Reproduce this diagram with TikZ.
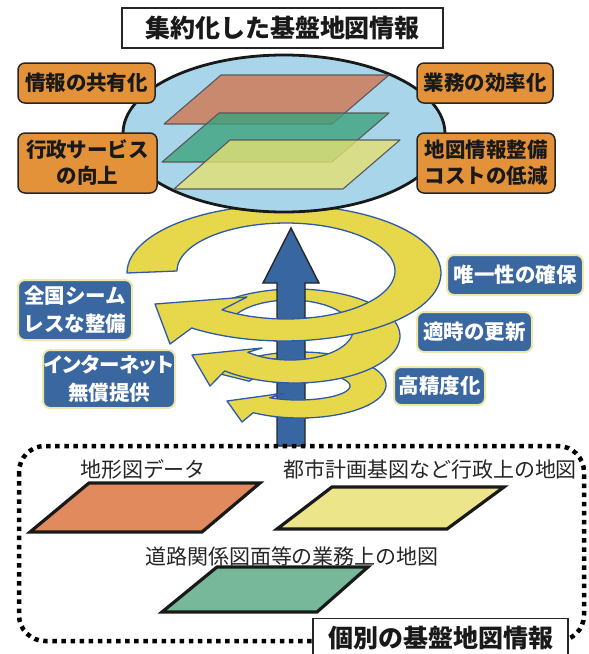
\documentclass[tikz,border=0pt]{standalone}
\usepackage{fontspec}
\setmainfont{Noto Sans CJK JP}
\newfontfamily\jpnarrow[RawFeature=+palt]{Noto Sans CJK JP}
\usetikzlibrary{shapes.geometric}

\definecolor{ovalblue}{HTML}{A8D5EA}
\definecolor{boxorange}{HTML}{E4923A}
\definecolor{boxblue}{HTML}{3A67A0}
\definecolor{boxrim}{HTML}{EDE8A8}
\definecolor{ribbon}{HTML}{E6D84A}
\definecolor{ribbonrim}{HTML}{2E5AA8}
\definecolor{shaftblue}{HTML}{3866A0}
\definecolor{sheetred}{HTML}{D0764F}
\definecolor{sheetgreen}{HTML}{3DA37E}
\definecolor{sheetyellow}{HTML}{E3E070}
\definecolor{mapred}{HTML}{E08A5E}
\definecolor{mapyellow}{HTML}{ECE58A}
\definecolor{mapgreen}{HTML}{76B899}

% spiral bands: outer edge, arrow head, inner edge back to the tail
\newcommand\bandone{plot[domain=180:486,samples=90] ({284+157*cos(\x)},{273+68*sin(\x)})
  -- (170,344) -- (155,304) -- (247,297)
  -- plot[domain=486:180,samples=90] ({286+109*cos(\x)},{271+48*sin(\x)}) -- cycle}
\newcommand\bandtwo{plot[domain=190:492,samples=90] ({295+105*cos(\x)},{336+47*sin(\x)})
  -- (210,386) -- (192,355) -- (262,348)
  -- plot[domain=492:190,samples=90] ({290+63*cos(\x)},{330+30*sin(\x)}) -- cycle}
\newcommand\bandthree{plot[domain=200:483,samples=90] ({300+86*cos(\x)},{385+33*sin(\x)})
  -- (242,422) -- (227,401) -- (285,393)
  -- plot[domain=483:200,samples=90] ({298+52*cos(\x)},{386+14*sin(\x)}) -- cycle}

\tikzset{
  band/.style={fill=ribbon, draw=ribbonrim, line width=1.3pt, line join=round},
  titlebox/.style={draw=black!85, line width=1.4pt, fill=white, inner sep=0pt,
    font=\fontsize{25}{30}\selectfont\bfseries, text=black!90},
  orangebox/.style={draw=black!85, line width=1.5pt, fill=boxorange, rounded corners=7pt,
    inner sep=0pt, align=center, text=black!90,
    font=\fontsize{20.5}{26}\selectfont\bfseries},
  bluebox/.style={draw=boxrim, line width=2pt, fill=boxblue, rounded corners=7pt,
    inner sep=0pt, align=center, text=white,
    font=\fontsize{20.5}{28}\selectfont\bfseries},
  sheet/.style={draw=gray!70!black, line width=1.1pt, fill opacity=0.8, line join=round},
  mapsheet/.style={draw=black!90, line width=3.2pt, line join=miter},
  maplabel/.style={inner sep=0pt, text=black!85, font=\fontsize{21}{25}\selectfont}
}

\begin{document}
\begin{tikzpicture}[x=1pt,y=-1pt]
\useasboundingbox (0,0) rectangle (589,654);

% spiral, full bands (back to front)
\path[band] \bandthree;
\path[band] \bandtwo;
\path[band] \bandone;

% upward arrow
\filldraw[fill=shaftblue, draw=black!85, line width=1.4pt, line join=miter]
  (291,228) -- (319,283) -- (305,283) -- (305,446) -- (277,446) -- (277,283) -- (263,283) -- cycle;

% front parts of the bands pass over the arrow shaft
\begin{scope}
  \clip (273,393) rectangle (309,428);
  \path[band] \bandthree;
\end{scope}
\begin{scope}
  \clip (273,350) rectangle (309,392);
  \path[band] \bandtwo;
\end{scope}
\begin{scope}
  \clip (273,308) rectangle (309,352);
  \path[band] \bandone;
\end{scope}

% integrated map ellipse with stacked layers
\node[ellipse, draw=black!90, line width=2.8pt, fill=ovalblue,
  minimum width=322pt, minimum height=157pt, inner sep=0pt] (oval) at (284,133.5) {};
\filldraw[sheet, fill=sheetred] (221,75) -- (389,75) -- (332,124) -- (164,124) -- cycle;
\filldraw[sheet, fill=sheetgreen] (219,113) -- (389,113) -- (332,162) -- (162,162) -- cycle;
\filldraw[sheet, fill=sheetyellow] (230,140) -- (400,140) -- (343,189) -- (174,189) -- cycle;

% title
\node[titlebox, minimum width=321pt, minimum height=40pt] (title) at (282.5,28) {集約化した基盤地図情報};

% benefits
\node[orangebox, minimum width=137pt, minimum height=40pt] (share) at (86.5,83) {情報の共有化};
\node[orangebox, minimum width=139pt, minimum height=60pt] (service) at (87.5,163) {行政サービス\\の向上};
\node[orangebox, minimum width=136pt, minimum height=40pt] (effic) at (485,83) {業務の効率化};
\node[orangebox, minimum width=138pt, minimum height=60pt] (cost) at (486,163) {地図情報整備\\コストの低減};

% properties of the spiral
\node[bluebox, minimum width=136pt, minimum height=40pt] (unique) at (515,275) {唯一性の確保};
\node[bluebox, minimum width=114pt, minimum height=60pt] (seamless) at (75,310) {全国シーム\\レスな整備};
\node[bluebox, minimum width=115pt, minimum height=40pt] (update) at (474.5,332) {適時の更新};
\node[bluebox, minimum width=132pt, minimum height=58pt] (free) at (109,379) {{\jpnarrow インターネット}\\無償提供};
\node[bluebox, minimum width=91pt, minimum height=38pt] (precise) at (439.5,386) {高精度化};

% individual base maps
\draw[line width=4.5pt, dash pattern=on 4.5pt off 4.6pt, rounded corners=26pt]
  (19,446) rectangle (584,641);

\filldraw[mapsheet, fill=mapred] (89,483) -- (260,483) -- (202,532) -- (30,532) -- cycle;
\filldraw[mapsheet, fill=mapyellow] (332,487) -- (504,487) -- (447,529) -- (277,529) -- cycle;
\filldraw[mapsheet, fill=mapgreen] (217,567) -- (368,567) -- (317,612) -- (162,612) -- cycle;

\node[maplabel] (topo) at (143,469) {地形図データ};
\node[maplabel] (city) at (430,469) {都市計画基図など行政上の地図};
\node[maplabel] (road) at (292,556) {道路関係図面等の業務上の地図};

\node[titlebox, minimum width=255pt, minimum height=44pt, anchor=north] (indiv) at (440.5,618) {};
\node[inner sep=0pt, font=\fontsize{25}{30}\selectfont\bfseries, text=black!90] (indivtext) at (440.5,638) {個別の基盤地図情報};
\end{tikzpicture}
\end{document}
